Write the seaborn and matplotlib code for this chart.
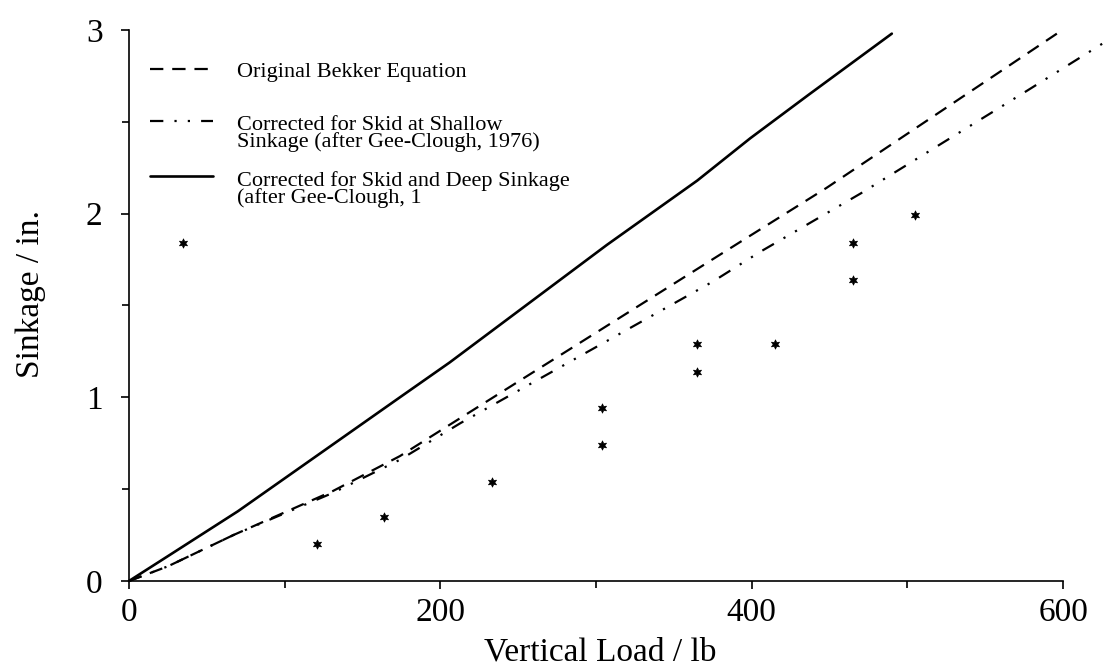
import matplotlib
matplotlib.use("Agg")
import matplotlib.pyplot as plt
from matplotlib.legend_handler import HandlerLine2D
import seaborn as sns
import numpy as np

# ---------------- data ----------------
bekker_x = [0, 25, 67, 131, 174, 264, 339, 399, 448, 596]
bekker_y = [0, 0.08, 0.25, 0.49, 0.68, 1.16, 1.56, 1.88, 2.14, 2.98]

shallow_x = [0, 25, 67, 131, 174, 213, 375, 405, 470, 577, 628]
shallow_y = [0, 0.08, 0.25, 0.48, 0.66, 0.86, 1.63, 1.79, 2.11, 2.67, 2.94]

deep_x = [0, 24, 70, 174, 206, 307, 365, 399, 437, 490]
deep_y = [0, 0.13, 0.38, 1.00, 1.19, 1.83, 2.18, 2.41, 2.65, 2.98]

meas_x = [35, 121, 164, 233, 304, 304, 365, 365, 415, 465, 465, 505]
meas_y = [1.84, 0.20, 0.35, 0.54, 0.94, 0.74, 1.29, 1.14, 1.29, 1.84, 1.64, 1.99]

labels = [
    "Original Bekker Equation",
    "Corrected for Skid at Shallow\nSinkage (after Gee-Clough, 1976)",
    "Corrected for Skid and Deep Sinkage\n(after Gee-Clough, 1",
]
x_ticks = [0, 200, 400, 600]
y_ticks = [0, 1, 2, 3]
x_label = "Vertical Load / lb"
y_label = "Sinkage / in."

# ---------------- style ----------------
sns.set_theme(style="ticks")
plt.rcParams["font.family"] = ["Liberation Serif", "DejaVu Serif"]
for k in ["text.color", "axes.labelcolor", "xtick.color", "ytick.color", "axes.edgecolor"]:
    plt.rcParams[k] = "black"
plt.rcParams["axes.linewidth"] = 1.2


class ShiftedLineHandler(HandlerLine2D):
    """Line handle raised so it sits on the first line of a two-line label."""

    def __init__(self, dy=0.0, **kw):
        super().__init__(**kw)
        self.dy = dy

    def create_artists(self, legend, orig_handle, xdescent, ydescent, width,
                       height, fontsize, trans):
        arts = super().create_artists(legend, orig_handle, xdescent, ydescent,
                                      width, height, fontsize, trans)
        for a in arts:
            if hasattr(a, "get_ydata"):
                a.set_ydata(np.asarray(a.get_ydata()) + self.dy)
        return arts


fig = plt.figure(figsize=(11.12, 6.72), dpi=100)
ax = fig.add_axes([0.116, 0.1354, 0.84, 0.82])

lw = 1.6
sns.lineplot(x=bekker_x, y=bekker_y, ax=ax, color="black", lw=lw,
             dashes=(6, 4), label=labels[0], sort=False, clip_on=False)
sns.lineplot(x=shallow_x, y=shallow_y, ax=ax, color="black", lw=lw,
             dashes=(6, 5, 1, 5, 1, 5), label=labels[1], sort=False, clip_on=False)
sns.lineplot(x=deep_x, y=deep_y, ax=ax, color="black", lw=lw + 0.3,
             label=labels[2], sort=False, clip_on=False)
sns.scatterplot(x=meas_x, y=meas_y, ax=ax, marker=(6, 1, 0), s=45, color="black",
                linewidth=0.5, edgecolor="black", zorder=5, legend=False)

ax.set_xlim(0, 600)
ax.set_ylim(0, 3)
ax.set_xticks(x_ticks)
ax.set_yticks(y_ticks)
ax.set_xticks([100, 300, 500], minor=True)
ax.set_yticks([0.5, 1.5, 2.5], minor=True)
ax.tick_params(axis="both", which="major", direction="out", length=6, width=1.2,
               labelsize=24, color="black")
ax.tick_params(axis="both", which="minor", direction="out", length=5, width=1.2,
               color="black")
ax.tick_params(axis="x", which="major", pad=6)
ax.tick_params(axis="y", which="major", pad=13)
sns.despine(ax=ax)

ax.set_xlabel(x_label, fontsize=24)
ax.set_ylabel(y_label, fontsize=24)
ax.xaxis.set_label_coords(0.505, -0.101)
ax.yaxis.set_label_coords(-0.089, 0.52)

# ---------------- legend: one entry per box, placed like the reference ----------------
handles = ax.get_lines()[:3]
tops = [0.9437, 0.8440, 0.7440]
shifts = [0.0, 9.0, 9.0]
legs = []
for h, lab, top, dy in zip(handles, labels, tops, shifts):
    leg = ax.legend([h], [lab], loc="upper left", bbox_to_anchor=(0.0225, top),
                    frameon=False, fontsize=16, borderpad=0, borderaxespad=0,
                    handlelength=2.85, handletextpad=1.05,
                    handler_map={h: ShiftedLineHandler(dy=dy)})
    for t in leg.get_texts():
        t.set_linespacing(0.82)
    legs.append(leg)
for leg in legs[:-1]:
    ax.add_artist(leg)

fig.savefig("out.png", dpi=100)
